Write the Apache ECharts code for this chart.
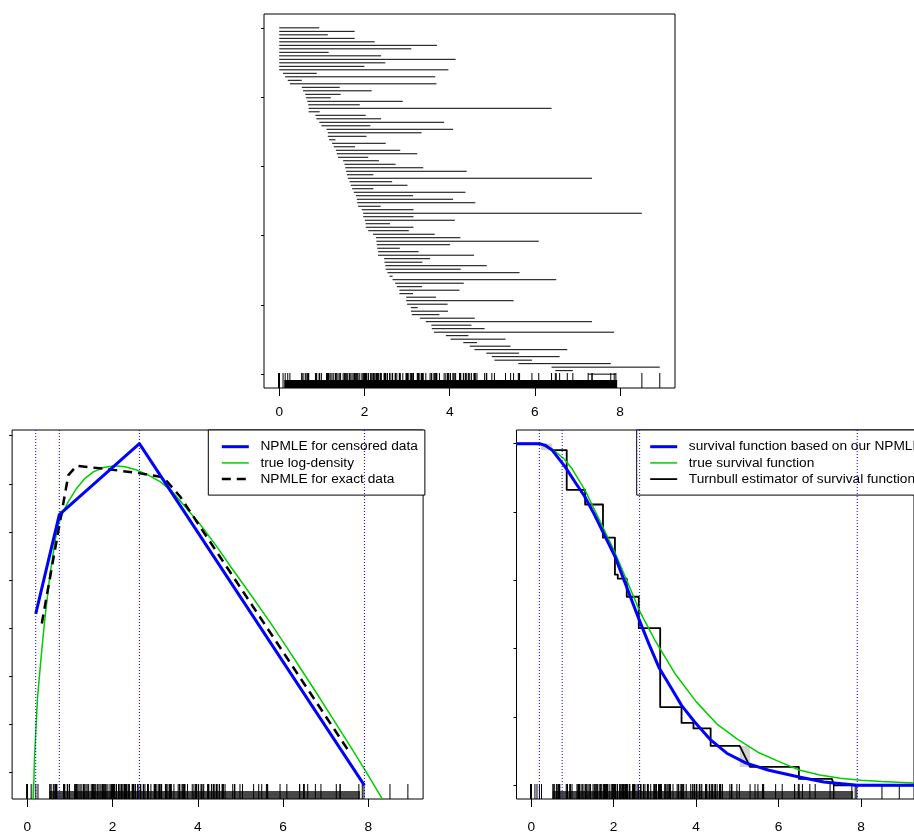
<!DOCTYPE html>
<html><head><meta charset="utf-8">
<script src="https://cdn.jsdelivr.net/npm/echarts@6/dist/echarts.min.js"></script>
<style>html,body{margin:0;padding:0;background:#fff}#c{width:914px;height:834px}</style>
</head><body><div id="c"></div>
<script>
// ---------- data ----------
const xTicks = [0, 2, 4, 6, 8];
const rowTicks = [1, 20.8, 40.6, 60.4, 80.2, 100];
const logDensTicks = [-8, -7, -6, -5, -4, -3, -2, -1];
const survTicks = [0, 0.2, 0.4, 0.6, 0.8, 1];

// censoring intervals (row 1 = top)
const intervalL = [0,0,0,0,0,0,0,0,0,0,0,0,0,0.09,0.14,0.20,0.25,0.53,0.56,0.61,
0.63,0.66,0.68,0.69,0.69,0.85,0.87,0.94,0.99,1.11,1.14,1.14,1.17,1.24,1.28,1.33,1.35,1.38,1.50,1.53,
1.55,1.57,1.59,1.61,1.65,1.68,1.71,1.75,1.80,1.82,1.83,1.85,1.94,1.97,1.97,2.01,2.03,2.03,2.09,2.20,
2.27,2.28,2.29,2.30,2.32,2.32,2.46,2.47,2.49,2.50,2.54,2.59,2.66,2.72,2.76,2.82,2.82,2.98,2.98,3.00,
3.09,3.09,3.11,3.30,3.44,3.57,3.58,3.63,3.91,4.02,4.32,4.47,4.58,4.86,4.99,5.05,5.61,6.39,6.48,7.25];
const intervalR = [0.94,1.77,1.14,1.77,2.24,3.70,3.10,1.16,2.39,4.14,2.49,2.00,3.97,0.88,3.66,0.53,3.69,1.42,2.17,1.44,
1.21,2.90,1.89,6.39,0.95,2.03,2.39,3.87,2.14,4.08,3.34,2.05,1.32,2.50,1.78,2.84,3.24,2.09,2.34,2.73,
3.38,4.40,2.21,7.34,2.65,3.01,2.21,4.37,3.14,4.08,4.60,2.38,3.15,8.51,3.15,4.12,2.60,3.15,3.04,3.65,
4.25,6.09,4.01,2.83,3.27,4.57,3.54,3.36,4.87,4.26,5.64,2.66,6.50,4.33,3.35,4.23,3.14,3.68,5.50,3.95,
3.25,3.96,3.76,4.59,7.34,4.51,4.82,7.86,4.44,5.31,4.64,5.43,6.76,5.63,6.58,5.93,7.78,8.93,6.89,7.90];

// dense rug of exact observations (range)
const exactRangeTop = [0.12, 7.93];
const exactRangeBottom = [0.52, 7.81];

// knots of the censored-data NPMLE
const knots = [0.197, 0.751, 2.63, 7.91];

// log-density panel
const npmleX = [0.197, 0.751, 2.63, 7.91];
const npmleY = [-4.70, -2.64, -1.165, -8.263];
const trueLogX = [0.12,0.141,0.169,0.239,0.322,0.400,0.533,0.650,0.728,0.862,0.963,1.159,1.354,1.549,1.784,2.059,2.293,2.568,2.840,3.115,3.390,3.648,4.054,4.45,4.836,5.29,5.737,6.07,6.401,6.79,7.183,7.535,7.887,8.319,8.45];
const trueLogY = [-9.3,-8.56,-7.68,-6.45,-5.62,-4.90,-3.87,-3.19,-2.85,-2.54,-2.37,-2.09,-1.885,-1.75,-1.66,-1.625,-1.646,-1.714,-1.817,-1.955,-2.15,-2.42,-2.84,-3.31,-3.80,-4.36,-4.93,-5.37,-5.82,-6.35,-6.90,-7.39,-7.89,-8.53,-8.71];
const exactX = [0.34, 0.963, 1.159, 1.941, 2.646, 3.192, 3.585, 7.535];
const exactY = [-4.90, -1.817, -1.625, -1.70, -1.782, -1.864, -2.263, -7.543];

// survival panel
const survX = [-0.36,0.195,0.35,0.508,0.824,1.05,1.294,1.53,1.765,2.039,2.313,2.627,2.862,3.098,3.412,3.647,3.961,4.353,4.745,5.215,5.765,6.471,7.098,7.92,9.3];
const survY = [1,1,0.995,0.981,0.932,0.89,0.846,0.793,0.735,0.668,0.581,0.482,0.412,0.345,0.282,0.234,0.186,0.133,0.094,0.065,0.044,0.025,0.0096,0,0];
const trueSurvX = [-0.36,0,0.2,0.5,0.8,1.0,1.3,1.6,2.0,2.3,2.63,3.0,3.5,4.0,4.5,5.0,5.5,6.0,6.5,7.0,7.5,8.0,8.5,9.3];
const trueSurvY = [1,1,0.999,0.985,0.955,0.925,0.865,0.79,0.69,0.605,0.51,0.425,0.325,0.245,0.18,0.135,0.097,0.07,0.045,0.030,0.021,0.015,0.011,0.007];
const turnX = [-0.36,0.235,0.508,0.861,0.861,1.308,1.308,1.741,1.741,2.031,2.031,2.10,2.10,2.318,2.318,2.61,2.61,3.129,3.129,3.647,3.647,3.937,3.937,4.353,4.353,5.059,5.31,6.494,6.494,7.294,7.35,9.3];
const turnY = [1,1,0.981,0.981,0.865,0.865,0.822,0.822,0.725,0.725,0.617,0.617,0.605,0.605,0.552,0.552,0.46,0.46,0.229,0.229,0.183,0.183,0.1666,0.1666,0.1156,0.1156,0.0538,0.0538,0.019,0.019,0,0];
// regions of non-uniqueness of the Turnbull estimator: [x0, x1, s0, s1]
const turnGray = [[0.235, 0.508, 0.981, 1.0], [5.059, 5.31, 0.0538, 0.1156]];

// ---------- chart ----------
const FONT = '"Liberation Sans", Arial, Helvetica, sans-serif';
const XMIN = -0.3572, XMAX = 9.2872;
const Y = [
  {min: -2.96, max: 103.96, ticks: rowTicks, inverse: true},
  {min: -8.547, max: -0.881, ticks: logDensTicks},
  {min: -0.04, max: 1.04, ticks: survTicks}
];
const FS = 13.7;
const GREEN = '#00cd00';
const chart = echarts.init(document.getElementById('c'));

function xAxisCfg(gi, margin) {
  return {type: 'value', gridIndex: gi, min: XMIN, max: XMAX, position: 'bottom',
    axisLine: {show: false, onZero: false}, splitLine: {show: false},
    axisTick: {show: true, inside: false, length: 8, customValues: xTicks, lineStyle: {color: '#000', width: 1}},
    axisLabel: {show: true, customValues: xTicks, margin: margin, color: '#000', fontSize: FS, fontFamily: FONT}};
}
function yAxisCfg(gi) {
  const c = Y[gi];
  return {type: 'value', gridIndex: gi, min: c.min, max: c.max, inverse: !!c.inverse, position: 'left',
    axisLine: {show: false, onZero: false}, splitLine: {show: false},
    axisTick: {show: true, inside: false, length: 3, customValues: c.ticks, lineStyle: {color: '#000', width: 1}},
    axisLabel: {show: false}};
}
function yRef(gi) { return (Y[gi].min + Y[gi].max) / 2; }

function rugSeries(gi, vals, len) {
  return {type: 'custom', xAxisIndex: gi, yAxisIndex: gi, silent: true, z: 3,
    data: vals.map(v => [v, yRef(gi)]), encode: {x: 0, y: 1},
    renderItem(params, api) {
      const cs = params.coordSys;
      const x = api.coord([api.value(0), yRef(gi)])[0];
      const b = cs.y + cs.height;
      return {type: 'line', shape: {x1: x, y1: b, x2: x, y2: b - len}, style: {stroke: '#000', lineWidth: 1}};
    }};
}
function bandSeries(gi, range, h, color) {
  return {type: 'custom', xAxisIndex: gi, yAxisIndex: gi, silent: true, z: 3,
    data: [[range[0], range[1], yRef(gi)]], encode: {x: [0, 1], y: 2},
    renderItem(params, api) {
      const cs = params.coordSys;
      const x0 = api.coord([api.value(0), yRef(gi)])[0];
      const x1 = api.coord([api.value(1), yRef(gi)])[0];
      const b = cs.y + cs.height;
      return {type: 'rect', shape: {x: x0, y: b - h, width: x1 - x0, height: h}, style: {fill: color}};
    }};
}
function knotSeries(gi) {
  return {type: 'custom', xAxisIndex: gi, yAxisIndex: gi, silent: true, z: 10,
    data: knots.map(k => [k, yRef(gi)]), encode: {x: 0, y: 1},
    renderItem(params, api) {
      const cs = params.coordSys;
      const x = api.coord([api.value(0), yRef(gi)])[0];
      return {type: 'line', shape: {x1: x, y1: cs.y, x2: x, y2: cs.y + cs.height},
        style: {stroke: '#0000ff', lineWidth: 1, lineDash: [1, 2]}};
    }};
}
function pairs(xs, ys) { return xs.map((x, i) => [x, ys[i]]); }
function lineSeries(name, gi, xs, ys, color, width, type, z) {
  return {name, type: 'line', xAxisIndex: gi, yAxisIndex: gi, data: pairs(xs, ys), symbol: 'none',
    silent: true, clip: true, z: z || 4, lineStyle: {color, width, type: type || 'solid', join: 'round'}, itemStyle: {color}};
}

const legendCommon = {
  orient: 'vertical', top: 430, padding: [9.7, 7, 9, 12], itemWidth: 27, itemHeight: 14, itemGap: 2.2,
  backgroundColor: '#fff', borderColor: '#000', borderWidth: 1, borderRadius: 0, selectedMode: false,
  itemStyle: {opacity: 0},
  textStyle: {fontSize: FS, fontFamily: FONT, color: '#000', lineHeight: 14, padding: [0, 0, 0, 6.6]}
};

const option = {
  animation: false,
  backgroundColor: '#fff',
  grid: [
    {left: 264, top: 14, width: 411, height: 374, show: true, borderColor: '#000', borderWidth: 1, backgroundColor: 'transparent'},
    {left: 12.1, top: 430, width: 411, height: 373, show: true, borderColor: '#000', borderWidth: 1, backgroundColor: 'transparent'},
    {left: 516.5, top: 430, width: 411, height: 373, show: true, borderColor: '#000', borderWidth: 1, backgroundColor: 'transparent'}
  ],
  xAxis: [xAxisCfg(0, 17.5), xAxisCfg(1, 21), xAxisCfg(2, 21)],
  yAxis: [yAxisCfg(0), yAxisCfg(1), yAxisCfg(2)],
  legend: [
    Object.assign({}, legendCommon, {left: 208.3, data: [
      {name: 'NPMLE for censored data', lineStyle: {width: 3}},
      {name: 'true log-density', lineStyle: {width: 1.5}},
      {name: 'NPMLE for exact data', lineStyle: {width: 2.5}}]}),
    Object.assign({}, legendCommon, {left: 636.7, data: [
      {name: 'survival function based on our NPMLE', lineStyle: {width: 3}},
      {name: 'true survival function', lineStyle: {width: 1.5}},
      {name: 'Turnbull estimator of survival function', lineStyle: {width: 1.8}}]})
  ],
  series: [
    // top panel: intervals
    {type: 'custom', xAxisIndex: 0, yAxisIndex: 0, silent: true, z: 2,
      data: intervalL.map((l, i) => [l, intervalR[i], i + 1]), encode: {x: [0, 1], y: 2},
      renderItem(params, api) {
        const p0 = api.coord([api.value(0), api.value(2)]);
        const p1 = api.coord([api.value(1), api.value(2)]);
        return {type: 'line', shape: {x1: p0[0], y1: p0[1], x2: p1[0], y2: p1[1]}, style: {stroke: '#000', lineWidth: 1}};
      }},
    rugSeries(0, intervalL.concat(intervalR), 15),
    bandSeries(0, exactRangeTop, 8, '#000'),
    // bottom-left: log densities
    knotSeries(1),
    lineSeries('true log-density', 1, trueLogX, trueLogY, GREEN, 1.5, 'solid', 4),
    lineSeries('NPMLE for exact data', 1, exactX, exactY, '#000', 2.5, [9, 6], 5),
    lineSeries('NPMLE for censored data', 1, npmleX, npmleY, '#0000ff', 3, 'solid', 6),
    rugSeries(1, intervalL.concat(intervalR), 15),
    bandSeries(1, exactRangeBottom, 8, 'rgba(0,0,0,0.72)'),
    // bottom-right: survival
    {type: 'custom', xAxisIndex: 2, yAxisIndex: 2, silent: true, z: 1,
      data: turnGray, encode: {x: [0, 1], y: [2, 3]},
      renderItem(params, api) {
        const p0 = api.coord([api.value(0), api.value(3)]);
        const p1 = api.coord([api.value(1), api.value(2)]);
        return {type: 'rect', shape: {x: p0[0], y: p0[1], width: p1[0] - p0[0], height: p1[1] - p0[1]}, style: {fill: '#d3d3d3'}};
      }},
    knotSeries(2),
    lineSeries('Turnbull estimator of survival function', 2, turnX, turnY, '#000', 1.8, 'solid', 4),
    lineSeries('true survival function', 2, trueSurvX, trueSurvY, GREEN, 1.5, 'solid', 5),
    lineSeries('survival function based on our NPMLE', 2, survX, survY, '#0000ff', 3, 'solid', 6),
    rugSeries(2, intervalL.concat(intervalR), 15),
    bandSeries(2, exactRangeBottom, 8, 'rgba(0,0,0,0.72)')
  ]
};
chart.setOption(option);
</script></body></html>
